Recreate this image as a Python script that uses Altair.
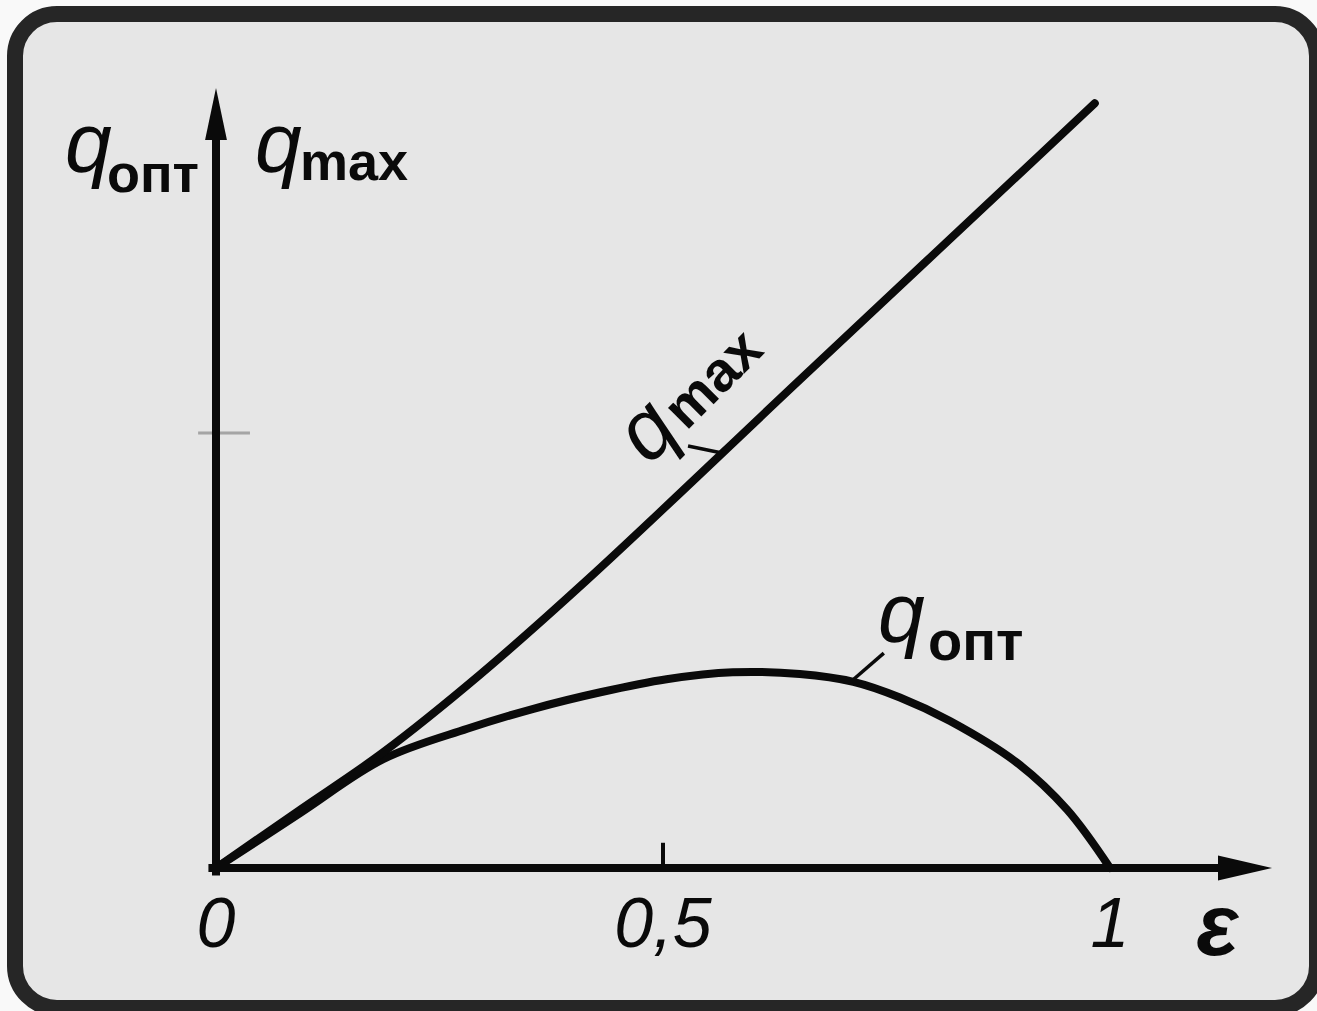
import altair as alt
import pandas as pd

# q_opt(ε) and q_max(ε), axis units
eps_opt = [0.0, 0.094, 0.187, 0.281, 0.355, 0.430, 0.504, 0.578, 0.653, 0.713, 0.765, 0.821, 0.896, 0.952, 1.0]
q_opt = [0.0, 0.063, 0.125, 0.160, 0.183, 0.202, 0.217, 0.225, 0.223, 0.214, 0.196, 0.169, 0.121, 0.067, 0.0]

eps_max = [0.0, 0.094, 0.187, 0.295, 0.415, 0.653, 0.983]
q_max = [0.0, 0.067, 0.133, 0.222, 0.331, 0.561, 0.879]

# axis ticks and their labels
x_label_values = [0, 0.5, 1]
x_label_texts = ["0", "0,5", "1"]
x_tick_values = [0.5]
y_tick_values = [0.5]

X_DOMAIN = [-0.22483, 1.23154]
Y_DOMAIN = [-0.16092, 0.98161]

FONT = "Liberation Sans, Arial, sans-serif"
INK = "#0a0a0a"
LINE_W = 8

xs = alt.Scale(domain=X_DOMAIN, nice=False, zero=False)
ys = alt.Scale(domain=Y_DOMAIN, nice=False, zero=False)


def ex(field="x"):
    return alt.X(f"{field}:Q", scale=xs, axis=None)


def ey(field="y"):
    return alt.Y(f"{field}:Q", scale=ys, axis=None)


opt_df = pd.DataFrame({"x": eps_opt, "y": q_opt})
max_df = pd.DataFrame({"x": eps_max, "y": q_max})

curve_opt = alt.Chart(opt_df).mark_line(
    interpolate="catmull-rom", color=INK, strokeWidth=LINE_W, strokeCap="round"
).encode(x=ex(), y=ey(), order="x:Q")

curve_max = alt.Chart(max_df).mark_line(
    interpolate="catmull-rom", color=INK, strokeWidth=LINE_W, strokeCap="round"
).encode(x=ex(), y=ey(), order="x:Q")

# axis lines
y_axis_line = alt.Chart(pd.DataFrame({"x": [0.0], "y": [-0.004], "y2": [0.87]})).mark_rule(
    color=INK, strokeWidth=LINE_W, strokeCap="square"
).encode(x=ex(), y=ey(), y2="y2:Q")

x_axis_line = alt.Chart(pd.DataFrame({"x": [-0.004], "x2": [1.14], "y": [0.0]})).mark_rule(
    color=INK, strokeWidth=LINE_W, strokeCap="square"
).encode(x=ex(), x2="x2:Q", y=ey())

# arrowheads
up_arrow = alt.Chart(pd.DataFrame({"x": [0.0], "y": [0.8667]})).mark_point(
    shape="M0,-1L0.42,1L-0.42,1Z", filled=True, size=2704, color=INK, opacity=1, strokeWidth=0
).encode(x=ex(), y=ey())

right_arrow = alt.Chart(pd.DataFrame({"x": [1.151], "y": [0.0]})).mark_point(
    shape="M1,0L-1,0.46L-1,-0.46Z", filled=True, size=2916, color=INK, opacity=1, strokeWidth=0
).encode(x=ex(), y=ey())

# tick marks
x_ticks = alt.Chart(pd.DataFrame({"x": x_tick_values, "y": [0.0] * len(x_tick_values),
                                  "y2": [0.029] * len(x_tick_values)})).mark_rule(
    color=INK, strokeWidth=4
).encode(x=ex(), y=ey(), y2="y2:Q")

y_ticks = alt.Chart(pd.DataFrame({"y": y_tick_values, "x": [-0.02] * len(y_tick_values),
                                  "x2": [0.038] * len(y_tick_values)})).mark_rule(
    color="#7a7a7a", strokeWidth=3, opacity=0.6
).encode(y=ey(), x=ex(), x2="x2:Q")

# tick labels
x_labels = alt.Chart(pd.DataFrame({"x": x_label_values, "t": x_label_texts,
                                   "y": [-0.0908] * len(x_label_values)})).mark_text(
    font=FONT, fontSize=70, fontStyle="italic", align="center", baseline="alphabetic",
    color=INK
).encode(x=ex(), y=ey(), text="t:N")

eps_title = alt.Chart(pd.DataFrame({"x": [1.12], "y": [-0.1], "t": ["ε"]})).mark_text(
    font=FONT, fontSize=88, fontStyle="italic", fontWeight="bold", align="center",
    baseline="alphabetic", color=INK
).encode(x=ex(), y=ey(), text="t:N")

# y axis title: q_опт | q_max
q_letters = alt.Chart(pd.DataFrame({"x": [-0.1689, 0.0436], "y": [0.8, 0.8], "t": ["q", "q"]})).mark_text(
    font=FONT, fontSize=84, fontStyle="italic", align="left", baseline="alphabetic", color=INK
).encode(x=ex(), y=ey(), text="t:N")

subs = alt.Chart(pd.DataFrame({"x": [-0.1219, 0.094], "y": [0.777, 0.791], "t": ["опт", "max"]})).mark_text(
    font=FONT, fontSize=54, fontWeight="bold", align="left", baseline="alphabetic", color=INK
).encode(x=ex(), y=ey(), text="t:N")

# curve label q_опт with leader
opt_leader = alt.Chart(pd.DataFrame({"x": [0.711, 0.747], "y": [0.215, 0.247]})).mark_line(
    color=INK, strokeWidth=3.5
).encode(x=ex(), y=ey(), order="x:Q")

opt_q = alt.Chart(pd.DataFrame({"x": [0.7405], "y": [0.2598], "t": ["q"]})).mark_text(
    font=FONT, fontSize=84, fontStyle="italic", align="left", baseline="alphabetic", color=INK
).encode(x=ex(), y=ey(), text="t:N")

opt_sub = alt.Chart(pd.DataFrame({"x": [0.7964], "y": [0.239], "t": ["опт"]})).mark_text(
    font=FONT, fontSize=56, fontWeight="bold", align="left", baseline="alphabetic", color=INK
).encode(x=ex(), y=ey(), text="t:N")

# curve label q_max along the line, with leader
max_leader = alt.Chart(pd.DataFrame({"x": [0.528, 0.566], "y": [0.485, 0.477]})).mark_line(
    color=INK, strokeWidth=3.5
).encode(x=ex(), y=ey(), order="x:Q")

max_q = alt.Chart(pd.DataFrame({"x": [0.483], "y": [0.501], "t": ["q"]})).mark_text(
    font=FONT, fontSize=84, fontStyle="italic", align="center", baseline="middle", angle=315, color=INK
).encode(x=ex(), y=ey(), text="t:N")

max_sub = alt.Chart(pd.DataFrame({"x": [0.557], "y": [0.561], "t": ["max"]})).mark_text(
    font=FONT, fontSize=56, fontWeight="bold", align="center", baseline="middle", angle=315, color=INK
).encode(x=ex(), y=ey(), text="t:N")

chart = alt.layer(
    y_ticks, x_ticks, curve_opt, curve_max, y_axis_line, x_axis_line, up_arrow, right_arrow,
    x_labels, eps_title, q_letters, subs, opt_leader, opt_q, opt_sub, max_leader, max_q, max_sub,
).properties(
    width=1302,
    height=994,
    padding={"left": 15, "top": 14, "right": 0, "bottom": 3},
    autosize=alt.AutoSizeParams(type="none"),
    background="#f9f9f9",
).configure_view(
    fill="#e6e6e6", stroke="#262626", strokeWidth=16, cornerRadius=42
)

chart.save("out.html", embed_options={"renderer": "svg", "actions": False})
